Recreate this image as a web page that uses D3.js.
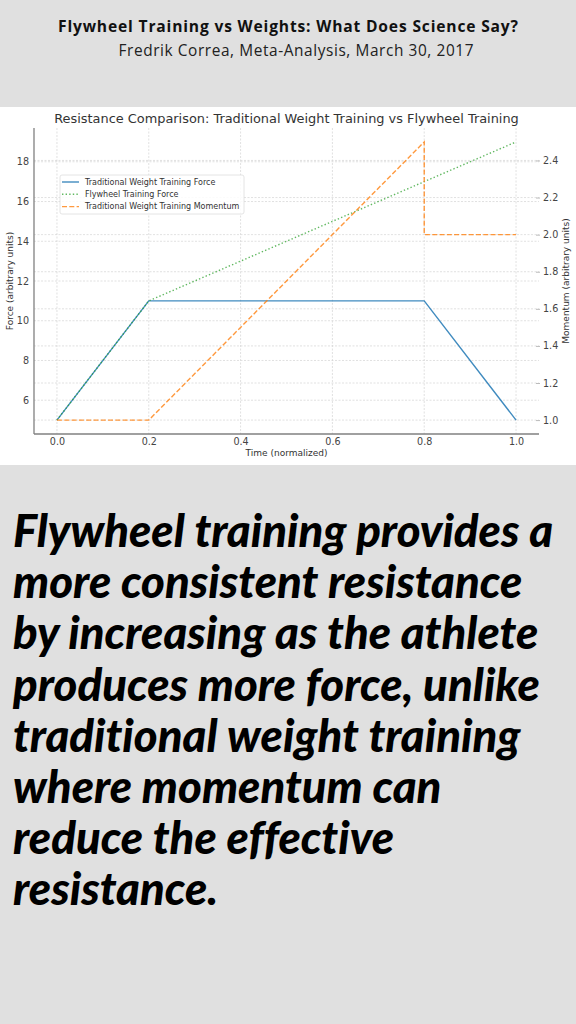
<!DOCTYPE html>
<html>
<head>
<meta charset="utf-8">
<title>Flywheel Training vs Weights</title>
<style>
  body { margin: 0; background: #e0e0e0; }
  svg { display: block; }
</style>
</head>
<body>
<script src="https://d3js.org/d3.v7.min.js"></script>
<script>
// data
var timeTrad   = [0, 0.2, 0.8, 1.0];
var forceTrad  = [5, 11, 11, 5];
var timeFly    = [0, 0.2, 1.0];
var forceFly   = [5, 11, 19];
var timeMom    = [0, 0.2, 0.8, 0.8, 1.0];
var momTrad    = [1.0, 1.0, 2.5, 2.0, 2.0];

var xTicks     = [0, 0.2, 0.4, 0.6, 0.8, 1.0];
var forceTicks = [6, 8, 10, 12, 14, 16, 18];
var momTicks   = [1.0, 1.2, 1.4, 1.6, 1.8, 2.0, 2.2, 2.4];

var legendLabels = ["Traditional Weight Training Force", "Flywheel Training Force", "Traditional Weight Training Momentum"];

var bodyLines = [
  "Flywheel training provides a",
  "more consistent resistance",
  "by increasing as the athlete",
  "produces more force, unlike",
  "traditional weight training",
  "where momentum can",
  "reduce the effective",
  "resistance."
];

var W = 576, H = 1024;
var svg = d3.select("body").append("svg")
    .attr("width", W).attr("height", H);

svg.append("rect").attr("width", W).attr("height", H).attr("fill", "#e0e0e0");

// header
svg.append("text")
    .attr("x", 288).attr("y", 32)
    .attr("text-anchor", "middle")
    .attr("font-family", "'Open Sans', sans-serif")
    .attr("font-weight", "bold")
    .attr("font-size", "15.6px")
    .attr("textLength", 460).attr("lengthAdjust", "spacing")
    .attr("fill", "#111")
    .text("Flywheel Training vs Weights: What Does Science Say?");
svg.append("text")
    .attr("x", 296).attr("y", 56)
    .attr("text-anchor", "middle")
    .attr("font-family", "'Open Sans', sans-serif")
    .attr("font-size", "15.4px")
    .attr("textLength", 355).attr("lengthAdjust", "spacing")
    .attr("fill", "#222")
    .text("Fredrik Correa, Meta-Analysis, March 30, 2017");

// chart panel
svg.append("rect").attr("x", 0).attr("y", 107).attr("width", W).attr("height", 358).attr("fill", "#fff");

var pLeft = 34, pRight = 539, pTop = 128, pBottom = 434;

var x = d3.scaleLinear().domain([-0.05, 1.05]).range([pLeft, pRight]);
var yF = d3.scaleLinear().domain([5 - 0.7, 19 + 0.7]).range([pBottom, pTop]);
var yM = d3.scaleLinear().domain([0.925, 2.575]).range([pBottom, pTop]);

var chart = svg.append("g");
var font = "'DejaVu Sans', sans-serif";
var gridCol = "#d4d4d4";

// grid
chart.append("g").selectAll("line").data(xTicks).join("line")
    .attr("x1", function(d){ return x(d); }).attr("x2", function(d){ return x(d); })
    .attr("y1", pTop).attr("y2", pBottom)
    .attr("stroke", gridCol).attr("stroke-width", 0.7).attr("stroke-dasharray", "2,1.5");
chart.append("g").selectAll("line").data(forceTicks).join("line")
    .attr("x1", pLeft).attr("x2", pRight)
    .attr("y1", function(d){ return yF(d); }).attr("y2", function(d){ return yF(d); })
    .attr("stroke", gridCol).attr("stroke-width", 0.7).attr("stroke-dasharray", "2,1.5");
chart.append("g").selectAll("line").data(momTicks).join("line")
    .attr("x1", pLeft).attr("x2", pRight)
    .attr("y1", function(d){ return yM(d); }).attr("y2", function(d){ return yM(d); })
    .attr("stroke", gridCol).attr("stroke-width", 0.7).attr("stroke-dasharray", "2,1.5");

// axes
var xAxis = chart.append("g")
    .attr("transform", "translate(0," + pBottom + ")")
    .call(d3.axisBottom(x).tickValues(xTicks).tickFormat(d3.format(".1f")).tickSize(0).tickPadding(4));
var yAxisL = chart.append("g")
    .attr("transform", "translate(" + pLeft + ",0)")
    .call(d3.axisLeft(yF).tickValues(forceTicks).tickSize(0).tickPadding(5));
var yAxisR = chart.append("g")
    .attr("transform", "translate(" + (pRight - 3) + ",0)")
    .call(d3.axisRight(yM).tickValues(momTicks).tickFormat(d3.format(".1f")).tickSize(4).tickPadding(3));

[xAxis, yAxisL, yAxisR].forEach(function(a){
  a.selectAll("text").attr("font-family", font).attr("font-size", "9.6px").attr("fill", "#444");
  a.selectAll(".tick line").attr("stroke", "#bbb");
});
xAxis.select(".domain").attr("stroke", "#808080").attr("stroke-width", 1.3).attr("d", "M" + pLeft + ",0H" + pRight);
yAxisL.select(".domain").attr("stroke", "#808080").attr("stroke-width", 1.3).attr("d", "M0," + pTop + "V" + pBottom);
yAxisR.select(".domain").remove();

// axis labels
chart.append("text")
    .attr("x", (pLeft + pRight) / 2).attr("y", 456)
    .attr("text-anchor", "middle")
    .attr("font-family", font).attr("font-size", "9px").attr("fill", "#333")
    .text("Time (normalized)");
chart.append("text")
    .attr("transform", "translate(13," + ((pTop + pBottom) / 2) + ") rotate(-90)")
    .attr("text-anchor", "middle")
    .attr("font-family", font).attr("font-size", "9px").attr("fill", "#333")
    .text("Force (arbitrary units)");
chart.append("text")
    .attr("transform", "translate(569," + ((pTop + pBottom) / 2) + ") rotate(-90)")
    .attr("text-anchor", "middle")
    .attr("font-family", font).attr("font-size", "9px").attr("fill", "#333")
    .text("Momentum (arbitrary units)");

// title
chart.append("text")
    .attr("x", (pLeft + pRight) / 2).attr("y", 123)
    .attr("text-anchor", "middle")
    .attr("font-family", font).attr("font-size", "12.9px").attr("fill", "#333")
    .text("Resistance Comparison: Traditional Weight Training vs Flywheel Training");

// series
var colBlue = "#1f77b4", colGreen = "#2ca02c", colOrange = "#ff7f0e";

chart.append("path")
    .datum(d3.zip(timeTrad, forceTrad))
    .attr("fill", "none").attr("stroke", colBlue).attr("stroke-width", 1.4).attr("stroke-opacity", 0.85)
    .attr("d", d3.line().x(function(d){ return x(d[0]); }).y(function(d){ return yF(d[1]); }));

chart.append("path")
    .datum(d3.zip(timeFly, forceFly))
    .attr("fill", "none").attr("stroke", colGreen).attr("stroke-width", 1.4).attr("stroke-opacity", 0.75)
    .attr("stroke-dasharray", "1.4,2.2")
    .attr("d", d3.line().x(function(d){ return x(d[0]); }).y(function(d){ return yF(d[1]); }));

chart.append("path")
    .datum(d3.zip(timeMom, momTrad))
    .attr("fill", "none").attr("stroke", colOrange).attr("stroke-width", 1.4).attr("stroke-opacity", 0.8)
    .attr("stroke-dasharray", "5,2.3")
    .attr("d", d3.line().x(function(d){ return x(d[0]); }).y(function(d){ return yM(d[1]); }));

// legend
var legend = chart.append("g").attr("transform", "translate(60,175)");
legend.append("rect")
    .attr("width", 184).attr("height", 39).attr("rx", 2)
    .attr("fill", "#fff").attr("fill-opacity", 0.85)
    .attr("stroke", "#ddd").attr("stroke-width", 0.8);
var styles = [
  {c: colBlue, dash: null, op: 0.85},
  {c: colGreen, dash: "1.4,2.2", op: 0.75},
  {c: colOrange, dash: "5,2.3", op: 0.8}
];
var rows = legend.selectAll("g.row").data(legendLabels).join("g")
    .attr("class", "row")
    .attr("transform", function(d, i){ return "translate(0," + (7 + i * 12.3) + ")"; });
rows.append("line")
    .attr("x1", 2).attr("x2", 19)
    .attr("stroke", function(d, i){ return styles[i].c; })
    .attr("stroke-opacity", function(d, i){ return styles[i].op; })
    .attr("stroke-dasharray", function(d, i){ return styles[i].dash; })
    .attr("stroke-width", 1.4);
rows.append("text")
    .attr("x", 25).attr("dy", "0.35em")
    .attr("font-family", font).attr("font-size", "8px").attr("fill", "#333")
    .text(function(d){ return d; });

// body text
var body = svg.append("g")
    .attr("font-family", "Lato, sans-serif")
    .attr("font-weight", "900")
    .attr("font-style", "italic")
    .attr("font-size", "45.5px")
    .style("font-variant-ligatures", "none")
    .attr("fill", "#000");
body.selectAll("text").data(bodyLines).join("text")
    .attr("x", 13)
    .attr("y", function(d, i){ return 547 + i * 51.2; })
    .text(function(d){ return d; });
</script>
</body>
</html>
